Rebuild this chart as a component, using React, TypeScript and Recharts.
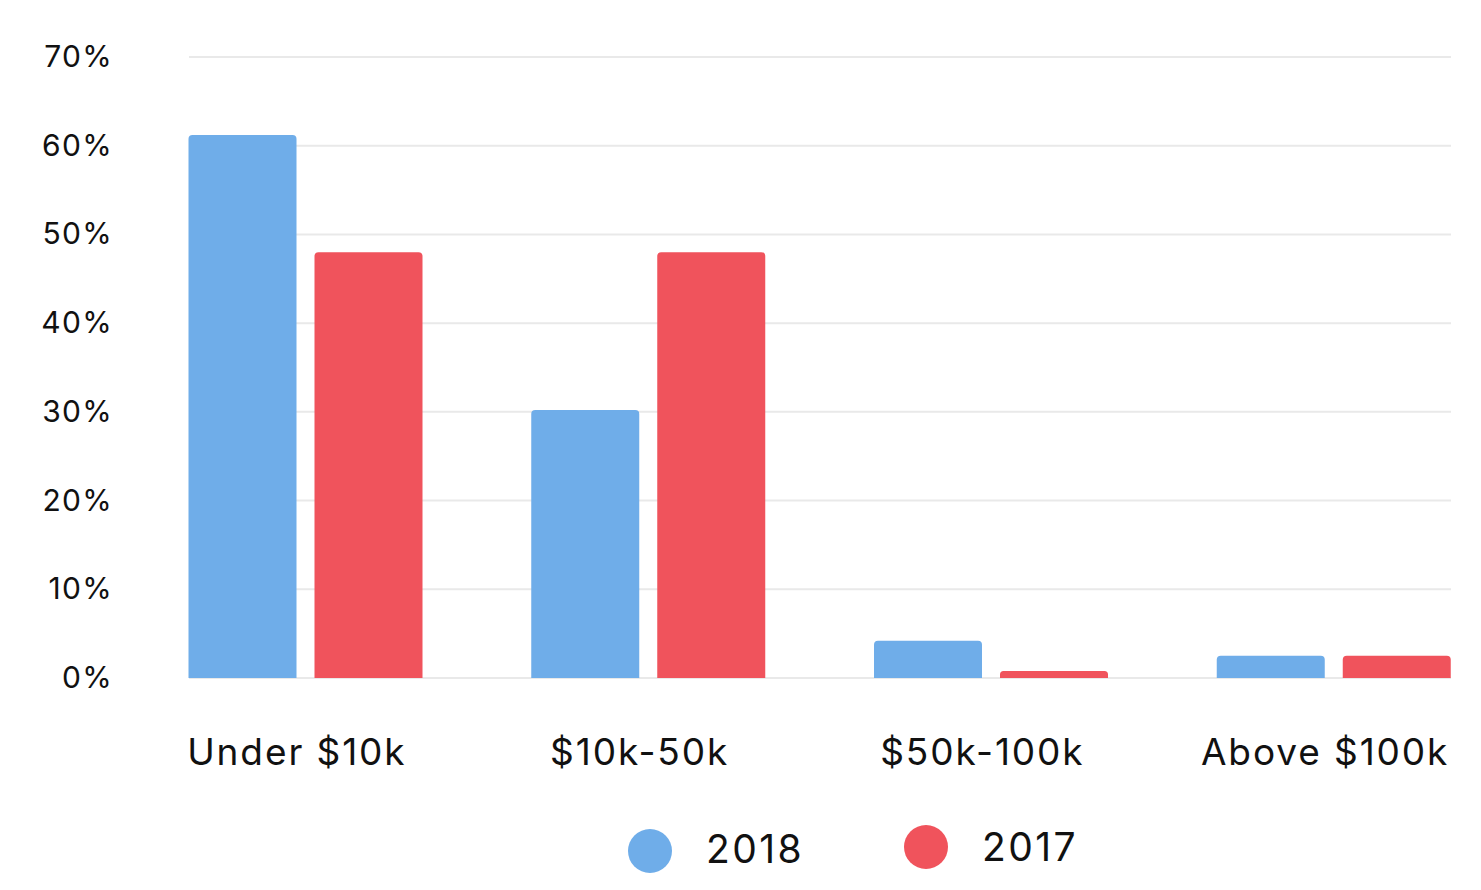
import React from 'react';
import { BarChart, Bar, XAxis, YAxis, CartesianGrid, Legend } from 'recharts';

const categories = ['Under $10k', '$10k-50k', '$50k-100k', 'Above $100k'];
const values2018 = [61.2, 30.2, 4.2, 2.5];
const values2017 = [48, 48, 0.8, 2.5];
const yTicks = [0, 10, 20, 30, 40, 50, 60, 70];

const BLUE = '#6FADE9';
const RED = '#F0535C';
const FONT = 'Inter, "Noto Sans", sans-serif';

const data = categories.map((c, i) => ({ name: c, y2018: values2018[i], y2017: values2017[i] }));

const YTick = (props: any) => {
  const { y, payload } = props;
  return (
    <text x={113} y={y + 10} textAnchor="end" fontFamily={FONT} fontSize={30} fill="#111" letterSpacing={1.3}>
      {payload.value}%
    </text>
  );
};

const XTick = (props: any) => {
  const { x, y, payload } = props;
  return (
    <text x={x - 9} y={y + 87} textAnchor="middle" fontFamily={FONT} fontSize={37} fill="#111" letterSpacing={1.9}>
      {payload.value}
    </text>
  );
};

const LegendContent = () => (
  <svg width={1481} height={80} style={{ display: 'block' }}>
    <circle cx={650} cy={41} r={22} fill={BLUE} />
    <text x={706} y={53} fontFamily={FONT} fontSize={39} fill="#111" letterSpacing={2.4}>2018</text>
    <circle cx={926} cy={37} r={22} fill={RED} />
    <text x={982} y={51} fontFamily={FONT} fontSize={39} fill="#111" letterSpacing={2.4}>2017</text>
  </svg>
);

export default function App() {
  return (
    <div style={{ position: 'absolute', left: 0, top: 0, background: '#fff' }}>
      <BarChart
        width={1481}
        height={890}
        data={data}
        margin={{ top: 57, right: 30, left: 89, bottom: 42 }}
        barSize={108}
        barGap={18}
      >
        <CartesianGrid vertical={false} stroke="#e9e9e9" strokeWidth={2} />
        <XAxis
          dataKey="name"
          axisLine={false}
          tickLine={false}
          tickSize={0}
          tickMargin={0}
          height={90}
          padding={{ left: -54.5, right: -54.5 }}
          tick={<XTick />}
          interval={0}
        />
        <YAxis
          width={100}
          domain={[0, 70]}
          ticks={yTicks}
          axisLine={false}
          tickLine={false}
          tick={<YTick />}
          interval={0}
        />
        <Legend
          verticalAlign="bottom"
          height={80}
          wrapperStyle={{ left: 0, top: 810, bottom: 'auto', width: 1481 }}
          content={<LegendContent />}
        />
        <Bar dataKey="y2018" name="2018" fill={BLUE} radius={[4, 4, 0, 0]} isAnimationActive={false} />
        <Bar dataKey="y2017" name="2017" fill={RED} radius={[4, 4, 0, 0]} isAnimationActive={false} />
      </BarChart>
    </div>
  );
}
